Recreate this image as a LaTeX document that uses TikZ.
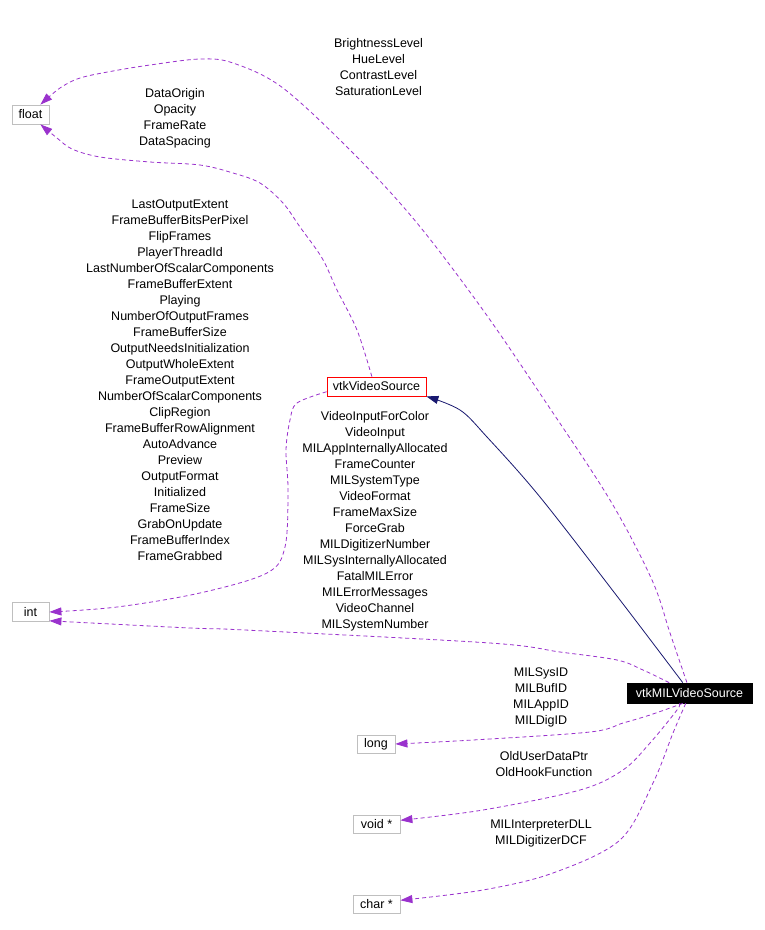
\documentclass[tikz,border=0pt]{standalone}
\usepackage{fontspec}
\setmainfont{Liberation Sans}
\usetikzlibrary{arrows.meta}
\definecolor{dep}{HTML}{9A32CD}
\definecolor{inh}{HTML}{191970}
\definecolor{boxgray}{HTML}{BFBFBF}
\tikzset{
  cls/.style={draw=boxgray, line width=0.8pt, inner sep=0pt, font=\fontsize{12.5}{16}\selectfont},
  lbl/.style={align=center, inner sep=0pt, anchor=north, font=\fontsize{12.5}{16}\selectfont},
  depedge/.style={draw=dep, line width=0.8pt, dash pattern=on 4pt off 3pt, -{Triangle[length=12pt,width=8pt]}, fill=none},
  inhedge/.style={draw=inh, line width=0.8pt, -{Triangle[length=12pt,width=8pt]}}
}
\begin{document}
\begin{tikzpicture}[x=1pt,y=-1pt]
\useasboundingbox[fill=white] (0,0) rectangle (765,930);

% nodes
\node[cls, minimum width=37pt, minimum height=19pt] (float) at (30.5,114.5) {float};
\node[cls, minimum width=37pt, minimum height=19pt] (int) at (30.5,612) {int};
\node[cls, minimum width=38pt, minimum height=18pt] (long) at (376,744) {long};
\node[cls, minimum width=47pt, minimum height=18pt] (void) at (376.5,824.5) {void *};
\node[cls, minimum width=47pt, minimum height=18pt] (char) at (376.5,904.5) {char *};
\node[cls, draw=red, minimum width=99pt, minimum height=19pt] (vvs) at (376.5,386.5) {vtkVideoSource};
\node[cls, draw=black, fill=black, text=white, minimum width=125pt, minimum height=20pt] (mil) at (689.5,693) {vtkMILVideoSource};

% labels
\node[lbl] (l1) at (378.5,38.5) {BrightnessLevel\\HueLevel\\ContrastLevel\\SaturationLevel};
\node[lbl] (l2) at (175,88.5) {DataOrigin\\Opacity\\FrameRate\\DataSpacing};
\node[lbl] (l3) at (180,199.5) {LastOutputExtent\\FrameBufferBitsPerPixel\\FlipFrames\\PlayerThreadId\\LastNumberOfScalarComponents\\FrameBufferExtent\\Playing\\NumberOfOutputFrames\\FrameBufferSize\\OutputNeedsInitialization\\OutputWholeExtent\\FrameOutputExtent\\NumberOfScalarComponents\\ClipRegion\\FrameBufferRowAlignment\\AutoAdvance\\Preview\\OutputFormat\\Initialized\\FrameSize\\GrabOnUpdate\\FrameBufferIndex\\FrameGrabbed};
\node[lbl] (l4) at (375,411.5) {VideoInputForColor\\VideoInput\\MILAppInternallyAllocated\\FrameCounter\\MILSystemType\\VideoFormat\\FrameMaxSize\\ForceGrab\\MILDigitizerNumber\\MILSysInternallyAllocated\\FatalMILError\\MILErrorMessages\\VideoChannel\\MILSystemNumber};
\node[lbl] (l5) at (541,667.5) {MILSysID\\MILBufID\\MILAppID\\MILDigID};
\node[lbl] (l6) at (544,751.5) {OldUserDataPtr\\OldHookFunction};
\node[lbl] (l7) at (541,819.5) {MILInterpreterDLL\\MILDigitizerDCF};

% edges
\draw[depedge] plot[smooth, tension=0.55] coordinates {(mil.104) (670,633) (652,580) (610,500) (543,398) (483,310) (417,223) (355,155) (283,88) (233,63) (200,59) (150,65) (113,71) (80,78) (60,88) (float.45)};
\draw[depedge] plot[smooth, tension=0.55] coordinates {(vvs.115) (357,330) (337,290) (322,258) (300,227) (283,203) (260,183) (233,173) (200,165) (150,162) (100,157) (72,149) (57,138) (float.-45)};
\draw[depedge] plot[smooth, tension=0.55] coordinates {(vvs.186) (297,403) (290,420) (286,450) (288,490) (285,547) (267,573) (200,593) (117,607) (int.east)};
\draw[inhedge] plot[smooth, tension=0.55] coordinates {(mil.123) (620,600) (540,497) (487,437) (460,410) (vvs.south east)};
\draw[depedge] plot[smooth, tension=0.55] coordinates {(mil.153) (643,670) (617,660) (560,652) (490,643) (245,630) (190,628) (int.-25)};
\draw[depedge] plot[smooth, tension=0.55] coordinates {(mil.237) (650,715) (623,723) (590,732) (473,740) (long.east)};
\draw[depedge] plot[smooth, tension=0.55] coordinates {(mil.226) (677,710) (650,743) (623,770) (580,790) (483,810) (void.10)};
\draw[depedge] plot[smooth, tension=0.55] coordinates {(mil.250) (673,733) (653,783) (620,840) (553,873) (483,890) (char.10)};
\end{tikzpicture}
\end{document}
